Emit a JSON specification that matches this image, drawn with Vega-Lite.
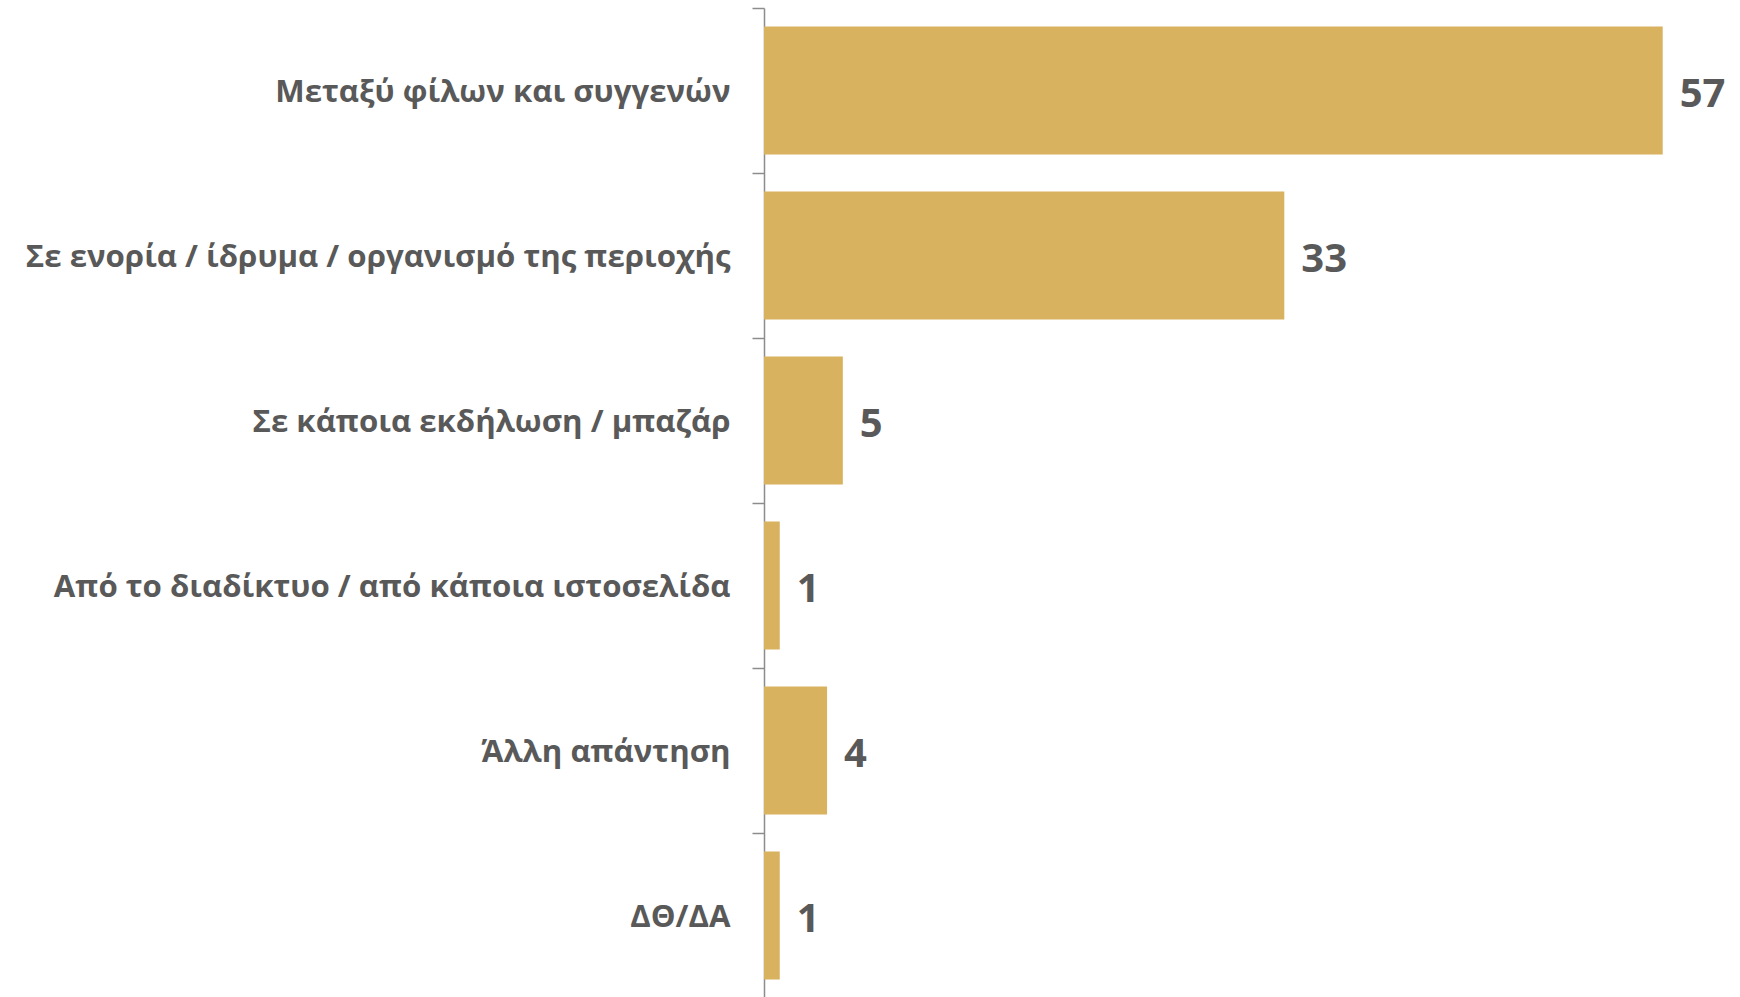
{
  "$schema": "https://vega.github.io/schema/vega-lite/v6.json",
  "autosize": {"type": "none"},
  "width": 946,
  "height": 990,
  "padding": {"left": 764, "top": 8, "right": 30, "bottom": 0},
  "background": "white",
  "config": {"view": {"stroke": null}},
  "data": {
    "values": [
      {"category": "Μεταξύ φίλων και συγγενών", "value": 57},
      {"category": "Σε ενορία / ίδρυμα / οργανισμό της περιοχής", "value": 33},
      {"category": "Σε κάποια εκδήλωση / μπαζάρ", "value": 5},
      {"category": "Από το διαδίκτυο / από κάποια ιστοσελίδα", "value": 1},
      {"category": "Άλλη απάντηση", "value": 4},
      {"category": "ΔΘ/ΔΑ", "value": 1}
    ]
  },
  "encoding": {
    "y": {
      "field": "category",
      "type": "nominal",
      "sort": null,
      "scale": {"paddingInner": 0, "paddingOuter": 0},
      "axis": {
        "title": null,
        "bandPosition": 0,
        "domainColor": "#8c8c8c",
        "domainWidth": 1.5,
        "tickColor": "#8c8c8c",
        "tickWidth": 1.5,
        "tickSize": 12,
        "labelFont": "Open Sans",
        "labelFontWeight": "bold",
        "labelFontSize": 31.2,
        "labelColor": "#595959",
        "labelPadding": 22,
        "labelLimit": 0,
        "labelOffset": 2,
        "labelBaseline": "middle"
      }
    },
    "x": {
      "field": "value",
      "type": "quantitative",
      "scale": {"domain": [0, 60], "nice": false},
      "axis": null
    }
  },
  "layer": [
    {
      "mark": {"type": "bar", "color": "#D9B25F", "height": {"band": 0.776}}
    },
    {
      "mark": {
        "type": "text",
        "align": "left",
        "baseline": "middle",
        "dx": 17,
        "dy": 4,
        "font": "Open Sans",
        "fontWeight": "bold",
        "fontSize": 40,
        "color": "#595959"
      },
      "encoding": {"text": {"field": "value", "type": "quantitative"}}
    }
  ]
}
